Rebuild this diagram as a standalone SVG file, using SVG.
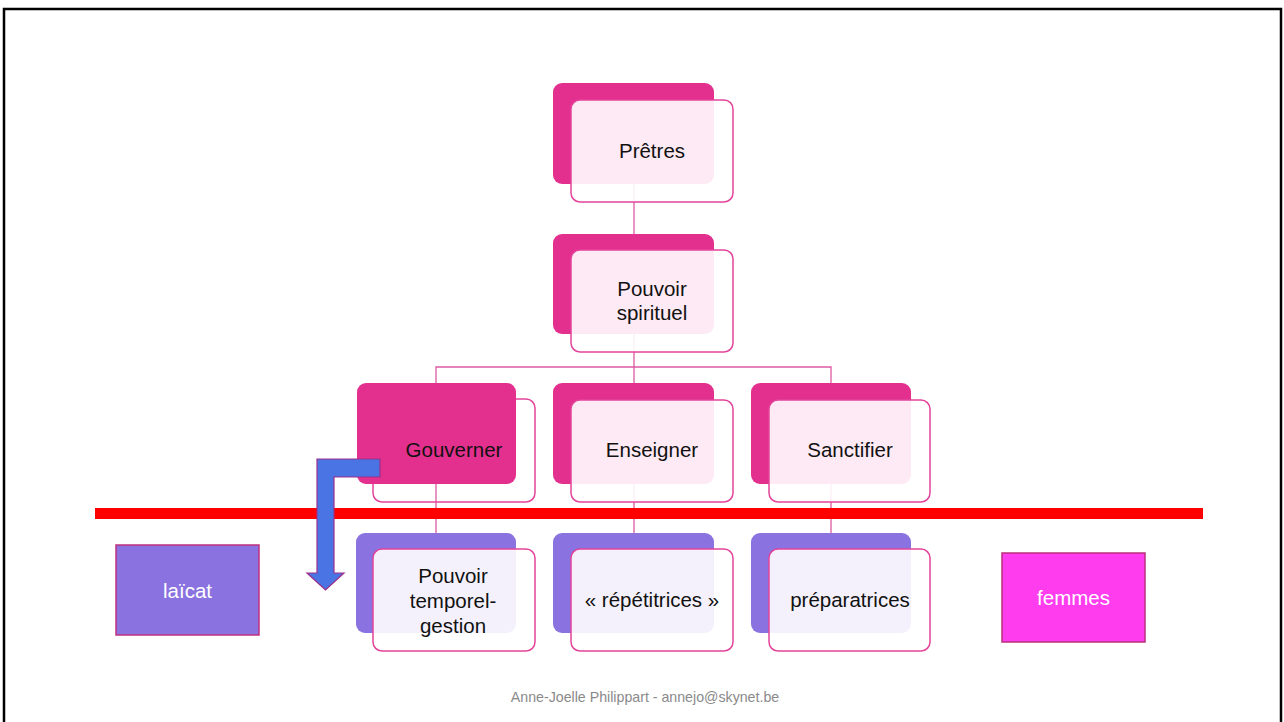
<svg xmlns="http://www.w3.org/2000/svg" width="1284" height="722" viewBox="0 0 1284 722">
<style>
.t{font-family:"Liberation Sans",Arial,sans-serif;font-size:20.5px;fill:#111;text-anchor:middle}
.w{font-family:"Liberation Sans",Arial,sans-serif;font-size:20.5px;fill:#fff;text-anchor:middle}
.pk{fill:#E3308E}
.pu{fill:#8A72E0}
.fr{fill:#fff;fill-opacity:0.9;stroke:#E3449A;stroke-width:1.5}
.fo{fill:none;stroke:#E3449A;stroke-width:1.5}
.c{fill:none;stroke:#DC5AA2;stroke-width:1.3}
</style>
<rect width="1284" height="722" fill="#fff"/>
<rect x="4" y="9" width="1277" height="720" fill="none" stroke="#000" stroke-width="2.5"/>
<g id="connectors">
<line class="c" x1="634" y1="184" x2="634" y2="234"/>
<line class="c" x1="634" y1="334" x2="634" y2="367"/>
<polyline class="c" points="436,383 436,367 831,367 831,383"/>
<line class="c" x1="634" y1="367" x2="634" y2="383"/>
<line class="c" x1="436" y1="484" x2="436" y2="533"/>
<line class="c" x1="634" y1="484" x2="634" y2="533"/>
<line class="c" x1="831" y1="484" x2="831" y2="533"/>
</g>
<g id="pretres">
<rect class="pk" x="553" y="83" width="161" height="101" rx="9"/>
<rect class="fr" x="571" y="100" width="162" height="102" rx="9"/>
<text class="t" x="652" y="158">Prêtres</text>
</g>
<g id="pouvoir-spirituel">
<rect class="pk" x="553" y="234" width="161" height="100" rx="9"/>
<rect class="fr" x="571" y="250" width="162" height="102" rx="9"/>
<text class="t" x="652" y="296">Pouvoir</text>
<text class="t" x="652" y="320">spirituel</text>
</g>
<g id="gouverner">
<rect class="fo" x="373" y="399" width="162" height="103" rx="9"/>
<rect class="pk" x="357" y="383" width="159" height="101" rx="9"/>
<text class="t" x="454" y="457">Gouverner</text>
</g>
<g id="enseigner">
<rect class="pk" x="553" y="383" width="161" height="101" rx="9"/>
<rect class="fr" x="571" y="400" width="162" height="102" rx="9"/>
<text class="t" x="652" y="457">Enseigner</text>
</g>
<g id="sanctifier">
<rect class="pk" x="751" y="383" width="160" height="101" rx="9"/>
<rect class="fr" x="769" y="400" width="161" height="102" rx="9"/>
<text class="t" x="850" y="457">Sanctifier</text>
</g>
<g id="separator">
<rect x="95" y="508" width="1108" height="11" fill="#FF0000"/>
</g>
<g id="pouvoir-temporel">
<rect class="pu" x="356" y="533" width="160" height="100" rx="9"/>
<rect class="fr" x="373" y="549" width="162" height="102" rx="9"/>
<text class="t" x="453" y="583">Pouvoir</text>
<text class="t" x="453" y="608">temporel-</text>
<text class="t" x="453" y="633">gestion</text>
</g>
<g id="repetitrices">
<rect class="pu" x="553" y="533" width="161" height="100" rx="9"/>
<rect class="fr" x="571" y="549" width="162" height="102" rx="9"/>
<text class="t" x="652" y="607">« répétitrices »</text>
</g>
<g id="preparatrices">
<rect class="pu" x="751" y="533" width="160" height="100" rx="9"/>
<rect class="fr" x="769" y="549" width="161" height="102" rx="9"/>
<text class="t" x="850" y="607">préparatrices</text>
</g>
<g id="arrow">
<polygon points="317,459 380,459 380,477 334,477 334,573 344,573 325.5,590 307,573 317,573" fill="#4A74E4" stroke="#9C2F8A" stroke-width="1.2"/>
</g>
<g id="laicat">
<rect x="116" y="545" width="143" height="90" fill="#8A72E0" stroke="#C0307F" stroke-width="1.5"/>
<text class="w" x="187.5" y="598">laïcat</text>
</g>
<g id="femmes">
<rect x="1002" y="553" width="143" height="89" fill="#FF3CEE" stroke="#B8307A" stroke-width="1.5"/>
<text class="w" x="1073.5" y="605">femmes</text>
</g>
<text x="645" y="702" font-family="Liberation Sans,Arial,sans-serif" font-size="14.2" fill="#8A8A8A" text-anchor="middle">Anne-Joelle Philippart - annejo@skynet.be</text>
</svg>
